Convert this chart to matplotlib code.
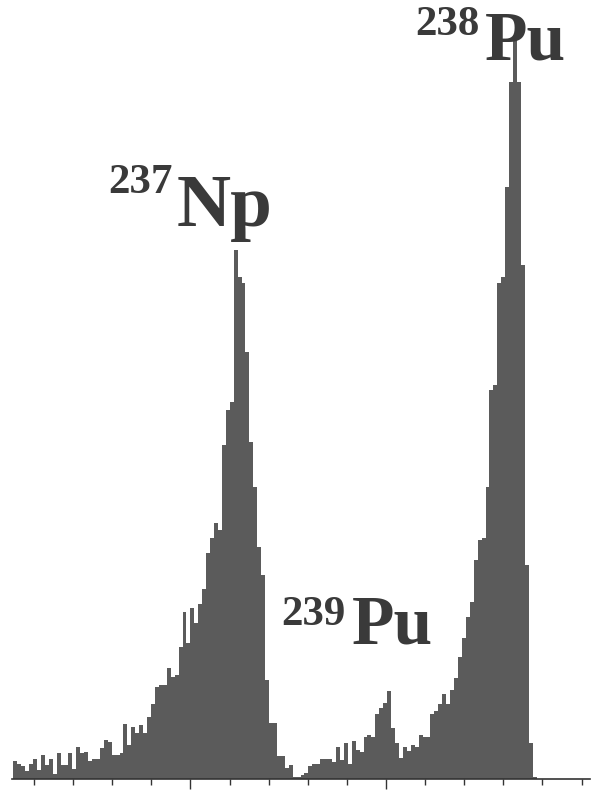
import numpy as np
import matplotlib
matplotlib.use("Agg")
import matplotlib.pyplot as plt

# counts per channel
counts = [
    18, 15, 13, 8, 15, 20, 9, 24, 14, 20,
    5, 26, 14, 14, 26, 10, 32, 26, 27, 18,
    20, 20, 31, 39, 37, 24, 24, 26, 55, 34,
    52, 46, 54, 46, 62, 75, 92, 94, 94, 111,
    102, 104, 132, 167, 136, 171, 156, 175, 190, 226,
    241, 256, 249, 334, 369, 377, 529, 502, 496, 427,
    337, 292, 232, 204, 99, 56, 56, 23, 23, 11,
    14, 2, 2, 4, 6, 13, 15, 15, 20, 20,
    20, 17, 32, 19, 36, 15, 38, 29, 27, 42,
    44, 42, 65, 71, 76, 88, 51, 36, 21, 32,
    28, 34, 32, 44, 42, 42, 65, 68, 75, 85,
    75, 89, 101, 122, 141, 162, 177, 219, 239, 241,
    292, 389, 394, 496, 502, 592, 697, 739, 697, 514,
    214, 36, 2,
]
channels = np.arange(len(counts))

# axis ticks, in channels
tick_pos = np.arange(15) * 9.94 + 5.26
major_idx = [4, 9]

labels = [("237", "Np"), ("239", "Pu"), ("238", "Pu")]

W, H = 595, 790
fig = plt.figure(figsize=(W / 100, H / 100), dpi=100)
px = 3.935  # pixels per channel
x0 = 13.3
ax = fig.add_axes([12 / W, 11 / H, (590 - 12) / W, 779 / H])
ax.bar(channels, counts, width=1.0, align="edge", color="#5b5b5b", linewidth=0)
ax.set_xlim((12 - x0) / px, (590 - x0) / px)
ax.set_ylim(0, 779)

for s in ["top", "left", "right"]:
    ax.spines[s].set_visible(False)
ax.spines["bottom"].set_linewidth(1.2)
ax.spines["bottom"].set_color("#333333")
ax.set_yticks([])

major = [tick_pos[i] for i in major_idx]
minor = [t for i, t in enumerate(tick_pos) if i not in major_idx]
ax.set_xticks(major)
ax.set_xticks(minor, minor=True)
ax.tick_params(axis="x", which="major", length=7, width=1.0, color="#333333", labelbottom=False)
ax.tick_params(axis="x", which="minor", length=4.3, width=1.0, color="#333333", labelbottom=False)

# peak labels: superscript mass number + element
font = dict(family="Liberation Serif", weight="bold", color="#3a3a3a")
pos = [((108, 193), (177, 226)), ((281, 625), (352, 643)), ((415, 35), (485, 60))]
elem_size = [54, 50, 50]
for (mass, elem), ((mx, my), (ex, ey)), es in zip(labels, pos, elem_size):
    fig.text(mx / W, 1 - my / H, mass, fontsize=31, va="baseline", ha="left", **font)
    fig.text(ex / W, 1 - ey / H, elem, fontsize=es, va="baseline", ha="left", **font)

fig.savefig("out.png", dpi=100)
